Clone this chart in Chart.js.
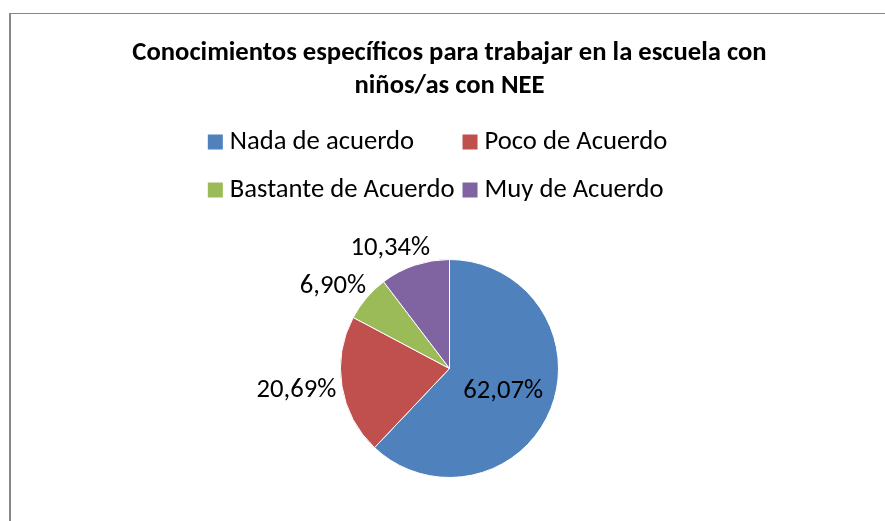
<!DOCTYPE html>
<html>
<head>
<meta charset="utf-8">
<script src="https://cdn.jsdelivr.net/npm/chart.js@4"></script>
<style>
  html, body { margin: 0; padding: 0; background: #fff; overflow: hidden; }
  #frame { position: absolute; left: 9px; top: 13px; width: 1000px; height: 1000px;
           border-left: 2px solid #888; border-top: 1px solid #888; }
  #wrap { position: absolute; left: 0; top: 0; width: 885px; height: 521px; }
</style>
</head>
<body>
<div id="frame"></div>
<div id="wrap"><canvas id="pieChart"></canvas></div>
<script>
// --- data ---
const categories = ['Nada de acuerdo', 'Poco de Acuerdo', 'Bastante de Acuerdo', 'Muy de Acuerdo'];
const percentages = [62.07, 20.69, 6.90, 10.34];
const sliceColors = ['#4F81BD', '#C0504D', '#9BBB59', '#8064A2'];
const titleLines = ['Conocimientos específicos para trabajar en la escuela con', 'niños/as con NEE'];

const FONT = 'Carlito, Calibri, Lato, sans-serif';

// legend drawn as a 2-column grid, like the Excel original
const gridLegend = {
  id: 'gridLegend',
  afterDraw(chart, args, opts) {
    const ctx = chart.ctx;
    ctx.save();
    ctx.font = `${opts.size}px ${FONT}`;
    ctx.textBaseline = 'middle';
    ctx.textAlign = 'left';
    const box = opts.box, gap = opts.gap, colGap = opts.colGap;
    const colWidths = [0, 0];
    categories.forEach((c, i) => {
      const w = box + gap + ctx.measureText(c).width;
      colWidths[i % 2] = Math.max(colWidths[i % 2], w);
    });
    const total = colWidths[0] + colGap + colWidths[1];
    const x0 = chart.width / 2 - total / 2 + opts.shiftX;
    categories.forEach((c, i) => {
      const col = i % 2, row = Math.floor(i / 2);
      const x = col === 0 ? x0 : x0 + colWidths[0] + colGap;
      const y = opts.top + row * opts.rowHeight;
      ctx.fillStyle = sliceColors[i];
      ctx.fillRect(x, y - box / 2, box, box);
      ctx.fillStyle = '#000';
      ctx.fillText(c, x + box + gap, y);
    });
    ctx.restore();
  }
};

// percentage labels: biggest slice inside, the rest outside
const sliceLabels = {
  id: 'sliceLabels',
  afterDatasetsDraw(chart, args, opts) {
    const ctx = chart.ctx;
    const meta = chart.getDatasetMeta(0);
    ctx.save();
    ctx.font = `${opts.size}px ${FONT}`;
    ctx.fillStyle = '#000';
    ctx.textAlign = 'center';
    ctx.textBaseline = 'middle';
    meta.data.forEach((arc, i) => {
      const p = arc.getProps(['x', 'y', 'startAngle', 'endAngle', 'outerRadius'], true);
      const mid = (p.startAngle + p.endAngle) / 2;
      const ux = Math.cos(mid), uy = Math.sin(mid);
      const text = percentages[i].toFixed(2).replace('.', ',') + '%';
      let cx, cy;
      if (p.endAngle - p.startAngle > Math.PI) {
        cx = p.x + ux * p.outerRadius * 0.53;
        cy = p.y + uy * p.outerRadius * 0.53;
      } else {
        const w = ctx.measureText(text).width;
        const d = p.outerRadius + opts.gap;
        cx = p.x + ux * d + Math.sign(ux) * Math.sqrt(Math.abs(ux)) * w / 2;
        cy = p.y + uy * d + Math.sign(uy) * Math.abs(uy) * opts.size / 2;
      }
      ctx.fillText(text, cx, cy + 1);
    });
    ctx.restore();
  }
};

new Chart(document.getElementById('pieChart'), {
  type: 'pie',
  data: {
    labels: categories,
    datasets: [{
      data: percentages,
      backgroundColor: sliceColors,
      borderColor: '#fff',
      borderWidth: 1
    }]
  },
  plugins: [gridLegend, sliceLabels],
  options: {
    responsive: true,
    maintainAspectRatio: false,
    animation: false,
    layout: { padding: { left: 14, right: 0, top: 0, bottom: 43 } },
    plugins: {
      legend: { display: false },
      tooltip: { enabled: false },
      title: {
        display: true,
        text: titleLines,
        color: '#000',
        font: { family: FONT, size: 26.67, weight: 'bold', lineHeight: 1.2375 },
        padding: { top: 37, bottom: 156 }
      },
      gridLegend: { size: 26.67, box: 15, gap: 7, colGap: 8, top: 142, rowHeight: 48, shiftX: -5 },
      sliceLabels: { size: 26.67, gap: 6 }
    }
  }
});
</script>
</body>
</html>
